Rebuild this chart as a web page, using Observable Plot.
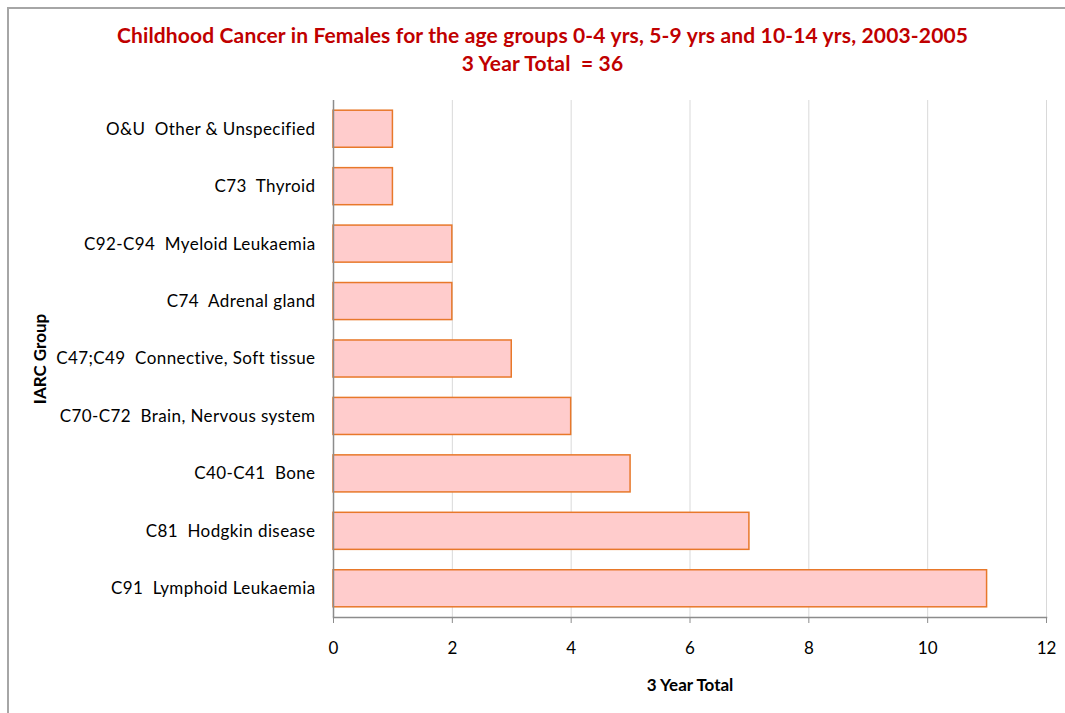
<!DOCTYPE html>
<html>
<head>
<meta charset="utf-8">
<script src="https://cdn.jsdelivr.net/npm/d3@7"></script>
<script src="https://cdn.jsdelivr.net/npm/@observablehq/plot@0.6"></script>
<style>
  html, body { margin: 0; padding: 0; background: #fff; overflow: hidden; }
  body { width: 1065px; height: 713px; position: relative; font-family: Lato, "Open Sans", sans-serif; }
  #frame { position: absolute; left: 7px; top: 7px; width: 1080px; height: 730px; border: 2px solid #a6a6a6; box-sizing: border-box; }
  #title { position: absolute; left: 0; top: 21px; width: 1085px; text-align: center; color: #c00000; font-weight: bold; font-size: 21px; letter-spacing: 0.15px; line-height: 28px; font-family: Lato, sans-serif; }
  #chart { position: absolute; left: 0; top: 90px; }
  #chart svg text { white-space: pre; }
  #chart svg g[aria-label="y-axis tick label"] text { letter-spacing: 0.4px; }
</style>
</head>
<body>
<div id="frame"></div>
<div id="title">Childhood Cancer in Females for the age groups 0-4 yrs, 5-9 yrs and 10-14 yrs, 2003-2005<br>3 Year Total&nbsp; = 36</div>
<div id="chart"></div>
<script>
const categories = [
  "O&U  Other & Unspecified",
  "C73  Thyroid",
  "C92-C94  Myeloid Leukaemia",
  "C74  Adrenal gland",
  "C47;C49  Connective, Soft tissue",
  "C70-C72  Brain, Nervous system",
  "C40-C41  Bone",
  "C81  Hodgkin disease",
  "C91  Lymphoid Leukaemia"
];
const values = [1, 1, 2, 2, 3, 4, 5, 7, 11];
const xTicks = [0, 2, 4, 6, 8, 10, 12];

const data = categories.map((c, i) => ({group: c, total: values[i]}));

const chart = Plot.plot({
  width: 1065,
  height: 623,
  marginTop: 10,
  marginBottom: 96,
  marginLeft: 333,
  marginRight: 19,
  style: {fontFamily: "Lato, sans-serif", fontSize: "17px", color: "#000", background: "transparent"},
  x: {domain: [0, 12]},
  y: {domain: categories, paddingInner: 0.355, paddingOuter: 0.1775, round: false},
  marks: [
    Plot.gridX(xTicks, {stroke: "#d9d9d9", strokeOpacity: 1, strokeWidth: 1}),
    Plot.barX(data, {x: "total", y: "group", fill: "#ffcccc", stroke: "#e8782a", strokeWidth: 1.5}),
    Plot.ruleX([0], {stroke: "#8c8c8c", strokeWidth: 1.5}),
    Plot.axisX({ticks: xTicks, tickSize: 6, tickPadding: 18, stroke: "#8c8c8c", label: null, fontSize: 17}),
    Plot.axisY({tickSize: 0, tickPadding: 18, label: null, fontSize: 17}),
    Plot.frame({anchor: "bottom", stroke: "#8c8c8c", strokeWidth: 1.5}),
    Plot.text(["3 Year Total"], {frameAnchor: "bottom", dy: 73, fontWeight: "bold", fontSize: 17, letterSpacing: 0.3}),
    Plot.text(["IARC Group"], {frameAnchor: "left", textAnchor: "middle", dx: -293, rotate: -90, fontWeight: "bold", fontSize: 17})
  ]
});
document.getElementById("chart").appendChild(chart);
</script>
</body>
</html>
